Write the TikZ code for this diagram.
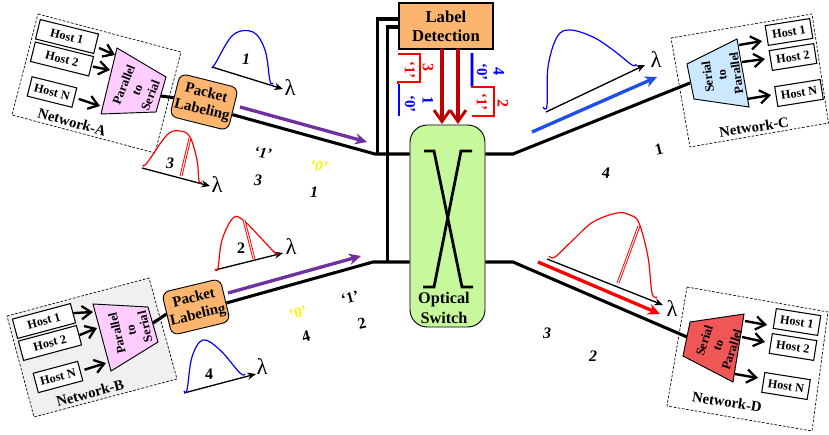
\documentclass[tikz,border=0pt]{standalone}
\usepackage{fontspec}
\setmainfont{Liberation Serif}
\usetikzlibrary{arrows.meta,calc}
\definecolor{pinkfill}{HTML}{FFCCFF}
\definecolor{orangefill}{HTML}{FBB56E}
\definecolor{greenfill}{HTML}{C8F89C}
\definecolor{cyanfill}{HTML}{CCE8FF}
\definecolor{redfill}{HTML}{F05656}
\definecolor{purplec}{HTML}{7030A0}
\definecolor{bluec}{HTML}{1F4FE8}
\definecolor{darkredc}{HTML}{C00000}
\tikzset{
  netbox/.style={draw,line width=0.5pt,dash pattern=on 2pt off 1.2pt},
  hostbox/.style={draw,fill=white,line width=0.8pt,font=\bfseries\fontsize{9.2}{10}\selectfont,minimum height=15pt,inner sep=0pt},
  hostarr/.style={line width=1.8pt,-{Straight Barb[length=7pt,width=10pt,line width=1.7pt]}},
  trapz/.style={draw,line width=0.7pt},
  traptxt/.style={font=\bfseries\fontsize{9.4}{10.8}\selectfont,align=center,inner sep=0pt},
  netname/.style={font=\bfseries\fontsize{11}{12}\selectfont,inner sep=0pt},
  packet/.style={draw,fill=orangefill,rounded corners=5.5pt,line width=0.7pt,minimum width=45pt,minimum height=33pt,align=center,inner sep=0pt,font=\bfseries\fontsize{11.2}{13}\selectfont},
  fibre/.style={line width=2.3pt,line join=miter},
  thinfibre/.style={line width=2.1pt},
  axisarr/.style={line width=1pt,-{Stealth[length=6.5pt,width=5.5pt]}},
  lam/.style={font=\fontsize{17}{17}\selectfont,inner sep=0pt},
  bigarr/.style={line width=2.5pt,-{Stealth[length=9pt,width=8.5pt]}},
  ctrlarr/.style={line width=2.4pt,darkredc,-{Straight Barb[length=8.5pt,width=12pt,line width=2.2pt]}},
  spec/.style={line width=0.9pt,smooth,tension=0.6},
  cut/.style={red,line width=0.7pt,double=white,double distance=0.7pt},
  tagtxt/.style={font=\bfseries\fontsize{11.3}{11}\selectfont,inner sep=0pt},
  tagit/.style={font=\bfseries\itshape\fontsize{11.3}{11}\selectfont,inner sep=0pt},
  numtxt/.style={font=\bfseries\fontsize{12}{12}\selectfont,inner sep=0pt},
  numit/.style={font=\bfseries\itshape\fontsize{12}{12}\selectfont,inner sep=0pt},
}
\begin{document}
\begin{tikzpicture}[x=0.75pt,y=-0.75pt]
\useasboundingbox (0,0) rectangle (829,435);

% network boxes
\draw[netbox] (38,14) -- (181,52) -- (155,153) -- (12,115) -- cycle;
\draw[netbox,fill=black!6] (7,316) -- (149,278) -- (177,379) -- (34,417) -- cycle;
\draw[netbox] (671,38) -- (812,14) -- (828.5,123) -- (690,147) -- cycle;
\draw[netbox] (687,287) -- (828,312) -- (812,431) -- (667,406) -- cycle;

% named positions
\coordinate (bendA) at (375,154);
\coordinate (bendB) at (373,262);
\coordinate (bendC) at (513,154);
\coordinate (bendD) at (513,262);
\coordinate (outA) at (161,96);
\coordinate (outB) at (153,323);
\coordinate (inC) at (690,83);
\coordinate (inD) at (687,337);
\coordinate (ctlA) at (377.6,154);
\coordinate (ctlB) at (387.4,262);
\coordinate (ctlAtop) at (377.6,19);
\coordinate (ctlBtop) at (387.4,27);

% packet labeling and main nodes
\node[packet,rotate=-14] (pa) at (204,102) {Packet\\Labeling};
\node[packet,rotate=13.5] (pb) at (196,307) {Packet\\Labeling};
\node[draw,fill=greenfill,rounded corners=13pt,line width=0.7pt,minimum width=56.25pt,minimum height=151.5pt,inner sep=0pt] (sw) at (447.5,226) {};
\node[draw,fill=orangefill,line width=0.8pt,minimum width=70.5pt,minimum height=34.5pt,align=center,inner sep=0pt,font=\bfseries\fontsize{12.5}{14.5}\selectfont] (ld) at (446,26) {Label\\Detection};

% fibres
\draw[fibre] (pa.-10) -- (bendA) -- (bendA -| sw.west);
\draw[fibre] (pb.-6) -- (bendB) -- (bendB -| sw.west);
\draw[fibre] (bendC -| sw.east) -- (bendC) -- (inC);
\draw[fibre] (bendD -| sw.east) -- (bendD) -- (inD);
\draw[fibre] (outA) -- (pa.186);
\draw[fibre] (outB) -- (pb.180);
\draw[fibre] (ld.west |- ctlAtop) -- (ctlAtop) -- (ctlA);
\draw[fibre] (ld.west |- ctlBtop) -- (ctlBtop) -- (ctlB);

% optical switch crossing and text
\coordinate (xa1) at (424,151); \coordinate (xa2) at (434,151); \coordinate (xa3) at (462,287); \coordinate (xa4) at (473,287);
\coordinate (xb1) at (472,151); \coordinate (xb2) at (461,151); \coordinate (xb3) at (434,287); \coordinate (xb4) at (423,287);
\draw[thinfibre] (xa1) -- (xa2) -- (xa3) -- (xa4);
\draw[thinfibre] (xb1) -- (xb2) -- (xb3) -- (xb4);
\node[align=center,inner sep=0pt,font=\bfseries\fontsize{12.2}{14.5}\selectfont] (swt) at (444,308) {Optical\\Switch};

% control arrows
\coordinate (c1s) at (442,49); \coordinate (c1e) at (442,124);
\coordinate (c2s) at (458,49); \coordinate (c2e) at (458,124);
\draw[ctrlarr] (c1s) -- (c1e);
\draw[ctrlarr] (c2s) -- (c2e);

% label brackets
\draw[red,line width=1.5pt] (398,54) -- (420,54) -- (420,82) -- (398,82) -- (398,84);
\draw[blue,line width=1.5pt] (399,84) -- (399,116);
\draw[blue!40,line width=2.4pt] (472,53) -- (472,86);
\draw[blue,line width=0.9pt] (472,53) -- (472,86);
\draw[red,line width=1.5pt] (472,86) -- (472,87) -- (494,87) -- (494,116) -- (472,116);
\node[tagtxt,red,rotate=-90] (q1) at (410,70) {‘1’};
\node[numtxt,red,rotate=-90] (q2) at (428,68) {3};
\node[tagtxt,blue,rotate=-90] (q3) at (410,104) {‘0’};
\node[numtxt,blue,rotate=-90] (q4) at (428,101) {1};
\node[tagtxt,blue,rotate=-90] (q5) at (482,72) {‘0’};
\node[numtxt,blue,rotate=-90] (q6) at (499,72) {4};
\node[tagtxt,red,rotate=-90] (q7) at (482,102) {‘1’};
\node[numtxt,red,rotate=-90] (q8) at (503,104) {2};

% big arrows
\coordinate (pa1) at (240,107); \coordinate (pa2) at (367,142);
\coordinate (pb1) at (228,293); \coordinate (pb2) at (361,256);
\coordinate (ba1) at (532,132); \coordinate (ba2) at (657,77);
\coordinate (ra1) at (538,262); \coordinate (ra2) at (660,314);
\draw[bigarr,purplec] (pa1) -- (pa2);
\draw[bigarr,purplec] (pb1) -- (pb2);
\draw[bigarr,bluec] (ba1) -- (ba2);
\draw[bigarr,red] (ra1) -- (ra2);

% Network A
\node[hostbox,minimum width=45pt,rotate=-14] (a1) at (67,36.5) {Host 1};
\node[hostbox,minimum width=45pt,rotate=-14] (a2) at (62,59) {Host 2};
\node[hostbox,minimum width=34.5pt,rotate=-14] (an) at (52,92) {Host N};
\coordinate (ta1) at (115,55); \coordinate (ta2) at (110,70); \coordinate (ta3) at (100,106);
\draw[hostarr,shorten <=2pt] (a1.east) ++(0,3) -- (ta1);
\draw[hostarr,shorten <=1pt] (a2.east) -- (ta2);
\draw[hostarr,shorten <=3pt] (an.east) -- (ta3);
\draw[trapz,fill=pinkfill] (117,48) -- (166,77) -- (156,112) -- (101,114) -- cycle;
\node[traptxt,rotate=68] (tat) at (137,90) {Parallel\\to\\Serial};
\node[netname,rotate=-16] (na) at (72,122) {Network-A};

% Network B
\node[hostbox,minimum width=45pt,rotate=15] (b1) at (44,321) {Host 1};
\node[hostbox,minimum width=45pt,rotate=15] (b2) at (50,343) {Host 2};
\node[hostbox,minimum width=34.5pt,rotate=15] (bn) at (58,377) {Host N};
\coordinate (tb1) at (93,312); \coordinate (tb2) at (97,328); \coordinate (tb3) at (106,363);
\draw[hostarr] (b1.east) -- (tb1);
\draw[hostarr] (b2.east) -- (tb2);
\draw[hostarr,shorten <=3pt] (bn.east) -- (tb3);
\draw[trapz,fill=pinkfill] (93,304) -- (148,307) -- (158,342) -- (111,371) -- cycle;
\node[traptxt,rotate=103] (tbt) at (131,330) {Parallel\\to\\Serial};
\node[netname,rotate=15] (nb) at (90,393) {Network-B};

% Network C
\node[hostbox,minimum width=33.75pt,rotate=9] (c1) at (789,32) {Host 1};
\node[hostbox,minimum width=33.75pt,rotate=9] (c2) at (793,57) {Host 2};
\node[hostbox,minimum width=34.5pt,rotate=9] (cn) at (799,93) {Host N};
\coordinate (tc1) at (739,45); \coordinate (tc2) at (742,62); \coordinate (tc3) at (747,99);
\coordinate (hc1) at (762,41); \coordinate (hc2) at (765,59); \coordinate (hc3) at (771,95);
\draw[hostarr] (tc1) -- (hc1);
\draw[hostarr] (tc2) -- (hc2);
\draw[hostarr] (tc3) -- (hc3);
\draw[trapz,fill=cyanfill] (687,64) -- (737,39) -- (749,107) -- (694,99) -- cycle;
\node[traptxt,rotate=98] (tct) at (722,75) {Serial\\to\\Parallel};
\node[netname,rotate=9] (nc) at (754,127) {Network-C};

% Network D
\node[hostbox,minimum width=33.75pt,rotate=-9] (d1) at (797,322) {Host 1};
\node[hostbox,minimum width=33.75pt,rotate=-9] (d2) at (793,347) {Host 2};
\node[hostbox,minimum width=34.5pt,rotate=-9] (dn) at (786,386) {Host N};
\coordinate (td1) at (745,321); \coordinate (td2) at (742,337); \coordinate (td3) at (735,374);
\coordinate (hd1) at (767,325); \coordinate (hd2) at (765,342); \coordinate (hd3) at (758,378);
\draw[hostarr] (td1) -- (hd1);
\draw[hostarr] (td2) -- (hd2);
\draw[hostarr] (td3) -- (hd3);
\draw[trapz,fill=redfill] (690,322) -- (744,314) -- (733,382) -- (683,356) -- cycle;
\node[traptxt,rotate=72] (tdt) at (718,345) {Serial\\to\\Parallel};
\node[netname,rotate=-9] (nd) at (727,402) {Network-D};

% spectrum A1
\coordinate (s1a) at (212,67); \coordinate (s1b) at (283,89);
\draw[axisarr] (s1a) -- (s1b);
\draw[spec,blue] plot coordinates {(212,67) (215,64) (233,35) (253,32) (265,50) (270,81) (273,83)};
\node[numit] (s1n) at (246,59) {1};
\node[lam] (s1l) at (290,88) {λ};

% spectrum A3
\coordinate (s3a) at (142,168); \coordinate (s3b) at (210,186);
\draw[axisarr] (s3a) -- (s3b);
\draw[spec,red] plot coordinates {(143,165) (147,163) (167,135) (180,131) (190,137) (197,160) (199,181) (202,182)};
\draw[cut] (190,138) -- (181,176);
\node[numit] (s3n) at (170,163) {3};
\node[lam] (s3l) at (217,185) {λ};

% spectrum B2
\coordinate (s2a) at (215,270); \coordinate (s2b) at (283,253);
\draw[axisarr] (s2a) -- (s2b);
\draw[spec,red] plot coordinates {(215,269) (218,268) (222,240) (233,218) (243,220) (260,237) (275,253) (278,253)};
\draw[cut] (244,220) -- (254,259);
\node[numtxt] (s2n) at (241,248) {2};
\node[lam] (s2l) at (291,247) {λ};

% spectrum B4
\coordinate (s4a) at (184,393); \coordinate (s4b) at (256,374);
\draw[axisarr] (s4a) -- (s4b);
\draw[spec,blue] plot coordinates {(184,391) (187,390) (192,357) (203,340) (220,350) (240,373) (245,374)};
\node[numtxt] (s4n) at (209,374) {4};
\node[lam] (s4l) at (262,367) {λ};

% spectrum C
\coordinate (scA) at (546,112); \coordinate (scB) at (645,65);
\draw[axisarr] (scA) -- (scB);
\draw[spec,blue] plot coordinates {(543,107) (547,106) (548,67) (557,37) (570,30) (593,37) (613,50) (632,65) (636,64)};
\node[lam] (scl) at (656,60) {λ};

% spectrum D
\coordinate (sdA) at (547,259); \coordinate (sdB) at (663,305);
\draw[axisarr] (sdA) -- (sdB);
\draw[spec,red] plot coordinates {(549,256) (555,257) (573,240) (593,222) (617,213) (630,215) (639,223) (648,257) (652,293) (657,297)};
\draw[cut] (639,226) -- (618,283);
\node[lam] (sdl) at (672,309) {λ};

% free labels
\node[tagit,rotate=-8] (l1) at (263,153) {‘1’};
\node[tagit,yellow,rotate=-8] (l2) at (319,166) {‘0’};
\node[numit] (l3) at (258,180) {3};
\node[numit] (l4) at (314,192) {1};
\node[tagtxt,rotate=14] (l5) at (350,298) {‘1’};
\node[tagtxt,yellow,rotate=14] (l6) at (298,313) {‘0’};
\node[numtxt,rotate=14] (l7) at (362,323) {2};
\node[numtxt,rotate=14] (l8) at (306,336) {4};
\node[numtxt,rotate=14] (l9) at (659,149) {1};
\node[numtxt,rotate=-8] (l10) at (606,173) {4};
\node[numit] (l11) at (547,333) {3};
\node[numit] (l12) at (593,356) {2};
\end{tikzpicture}
\end{document}
